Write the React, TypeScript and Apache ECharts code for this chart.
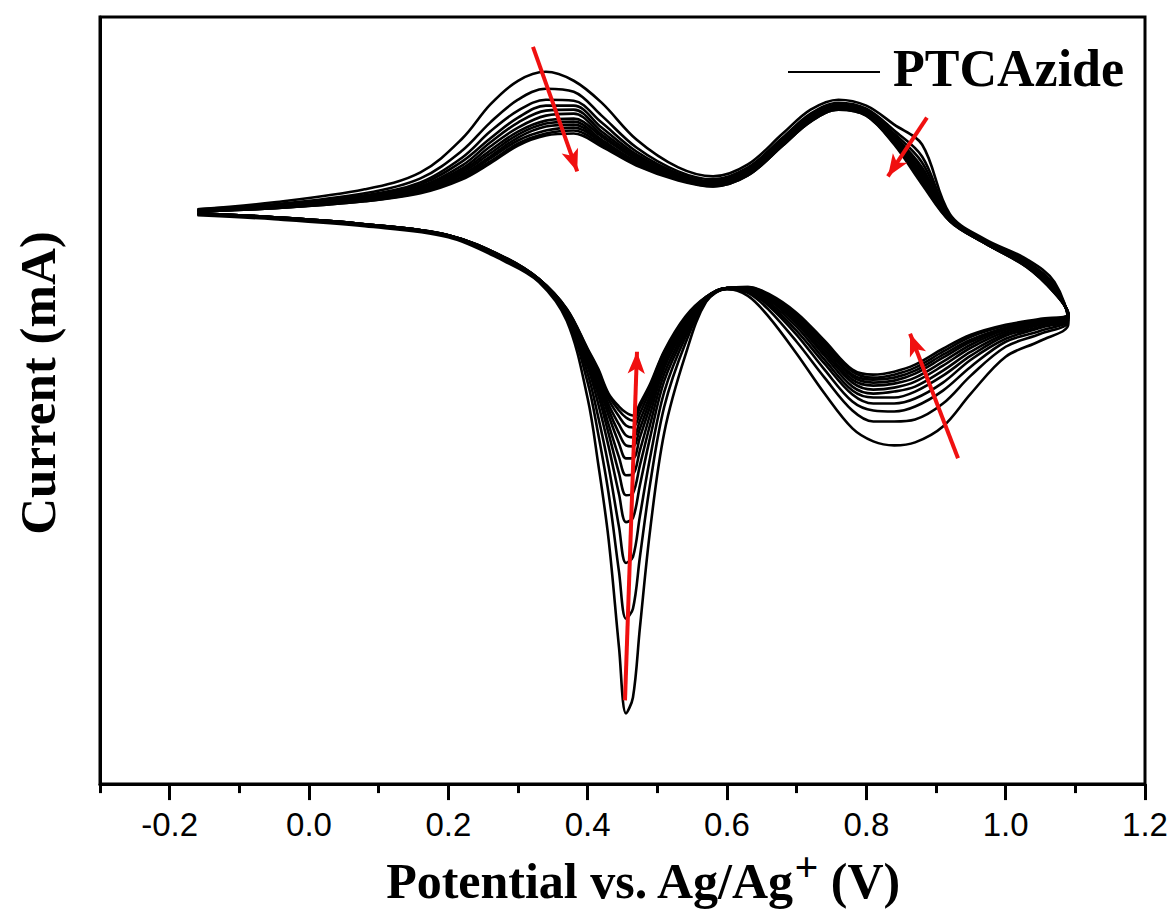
import React, { useEffect, useRef } from "react";
import * as echarts from "echarts";

// Potentials (V vs Ag/Ag+) for the anodic (forward) sweep, ending at the turning point 1.09 V
const potentialsAnodic = [-0.16, -0.05, 0.08, 0.16, 0.22, 0.26, 0.30, 0.34, 0.38, 0.42, 0.47, 0.53, 0.58, 0.63, 0.68, 0.72, 0.76, 0.80, 0.84, 0.88, 0.92, 0.97, 1.03, 1.07, 1.09];
// Current in µA at each anodic potential, cycles 1..12 (left to right)
const currentsAnodicUA = [
  [2, 2, 1, 1, 1, 1, 0, 0, 0, 0, 0, 0],
  [9, 7, 6, 6, 5, 5, 4, 4, 4, 3, 3, 3],
  [22, 18, 16, 15, 14, 13, 13, 12, 11, 11, 10, 10],
  [39, 33, 29, 27, 25, 24, 23, 22, 21, 20, 19, 18],
  [73, 61, 54, 50, 46, 43, 41, 39, 37, 35, 34, 32],
  [107, 89, 80, 73, 69, 65, 61, 58, 55, 53, 50, 48],
  [131, 112, 101, 94, 89, 84, 80, 77, 74, 71, 68, 66],
  [140, 123, 112, 106, 101, 96, 91, 88, 85, 81, 78, 76],
  [131, 120, 111, 106, 102, 98, 93, 90, 87, 84, 81, 78],
  [109, 96, 89, 84, 80, 77, 75, 72, 70, 69, 67, 65],
  [72, 64, 60, 57, 55, 53, 52, 50, 49, 48, 47, 46],
  [44, 40, 38, 37, 36, 35, 34, 33, 33, 32, 32, 31],
  [35, 32, 30, 29, 28, 28, 27, 27, 26, 26, 25, 25],
  [47, 44, 42, 41, 40, 39, 38, 38, 37, 37, 36, 36],
  [78, 74, 72, 71, 70, 69, 69, 68, 67, 67, 66, 66],
  [102, 98, 96, 95, 94, 93, 93, 92, 91, 91, 90, 90],
  [112, 109, 107, 106, 105, 105, 104, 104, 103, 103, 102, 102],
  [106, 103, 101, 100, 99, 99, 98, 98, 97, 97, 96, 96],
  [87, 81, 78, 76, 74, 73, 71, 70, 69, 69, 68, 67],
  [67, 55, 49, 44, 41, 38, 36, 34, 32, 31, 29, 27],
  [-3, -5, -6, -7, -7, -8, -8, -9, -9, -9, -10, -10],
  [-28, -29, -30, -30, -31, -31, -31, -31, -32, -32, -32, -32],
  [-48, -50, -52, -53, -53, -54, -54, -55, -55, -55, -56, -56],
  [-71, -74, -76, -77, -78, -79, -80, -80, -81, -81, -82, -82],
  [-113, -110, -108, -107, -106, -106, -105, -105, -104, -104, -103, -103],
];

// Potentials for the cathodic (reverse) sweep, from 1.09 V back to -0.16 V
const potentialsCathodic = [1.05, 1.00, 0.95, 0.91, 0.87, 0.84, 0.81, 0.78, 0.74, 0.70, 0.66, 0.63, 0.60, 0.57, 0.54, 0.51, 0.49, 0.475, 0.465, 0.455, 0.445, 0.43, 0.415, 0.40, 0.37, 0.33, 0.28, 0.20, 0.08, -0.05, -0.16];
// Current in µA at each cathodic potential, cycles 1..12
const currentsCathodicUA = [
  [-130, -123, -120, -117, -116, -114, -113, -112, -111, -110, -109, -108],
  [-146, -136, -131, -128, -125, -123, -121, -119, -118, -117, -115, -114],
  [-183, -165, -156, -149, -145, -141, -137, -134, -131, -129, -126, -124],
  [-216, -193, -180, -172, -165, -160, -155, -151, -147, -144, -141, -138],
  [-232, -209, -196, -188, -181, -176, -171, -167, -163, -160, -157, -154],
  [-235, -211, -201, -193, -187, -181, -177, -173, -170, -167, -164, -161],
  [-231, -211, -200, -193, -187, -183, -179, -175, -172, -169, -167, -164],
  [-218, -200, -191, -184, -180, -176, -172, -169, -166, -164, -161, -159],
  [-183, -167, -159, -153, -149, -145, -142, -139, -136, -134, -132, -130],
  [-143, -131, -124, -120, -116, -113, -111, -109, -107, -105, -104, -102],
  [-106, -99, -95, -93, -91, -89, -88, -87, -86, -85, -84, -83],
  [-85, -82, -81, -80, -79, -79, -78, -78, -77, -77, -76, -76],
  [-78, -78, -78, -78, -77, -77, -77, -77, -77, -77, -77, -77],
  [-91, -90, -89, -88, -88, -87, -87, -87, -87, -86, -86, -86],
  [-145, -133, -127, -123, -120, -117, -115, -113, -111, -109, -108, -106],
  [-222, -196, -181, -170, -163, -157, -153, -149, -146, -144, -141, -140],
  [-318, -272, -246, -226, -213, -203, -195, -189, -184, -179, -175, -173],
  [-418, -347, -306, -275, -255, -240, -227, -218, -210, -203, -197, -193],
  [-488, -399, -347, -308, -283, -264, -248, -236, -227, -217, -210, -205],
  [-504, -409, -353, -312, -285, -265, -248, -235, -225, -215, -207, -202],
  [-438, -362, -317, -284, -263, -247, -233, -223, -214, -206, -200, -196],
  [-329, -283, -256, -236, -223, -214, -205, -199, -194, -189, -185, -183],
  [-253, -223, -206, -193, -184, -178, -173, -168, -165, -162, -160, -158],
  [-188, -172, -163, -156, -152, -149, -146, -144, -142, -140, -139, -138],
  [-110, -106, -104, -103, -102, -102, -101, -100, -99, -99, -98, -98],
  [-71, -70, -70, -69, -69, -69, -69, -68, -68, -68, -68, -68],
  [-50, -49, -48, -48, -48, -47, -47, -47, -47, -46, -46, -46],
  [-26, -25, -25, -25, -25, -25, -24, -24, -24, -24, -24, -24],
  [-15, -14, -14, -14, -14, -14, -13, -13, -13, -13, -13, -13],
  [-8, -7, -7, -7, -7, -7, -6, -6, -6, -6, -6, -6],
  [-4, -3, -3, -3, -3, -3, -2, -2, -2, -2, -2, -2],
];

const cycleCount = 12;
const majorTicks = [-0.2, 0.0, 0.2, 0.4, 0.6, 0.8, 1.0, 1.2];
const minorTicks = [-0.3, -0.1, 0.1, 0.3, 0.5, 0.7, 0.9, 1.1];

// Red trend arrows: [start potential, start current (mA), end potential, end current (mA)]
const trendArrows = [
  [0.3215, 0.165, 0.385, 0.040],
  [0.887, 0.094, 0.831, 0.035],
  [0.4536, -0.491, 0.4708, -0.141],
  [0.9316, -0.248, 0.8628, -0.123],
];

const legendLabel = "PTCAzide";
const xTitle = "Potential vs. Ag/Ag";
const yTitle = "Current (mA)";

const serif = '"Liberation Serif", "Times New Roman", serif';
const narrow = '"Liberation Sans Narrow", "Arial Narrow", "Liberation Sans", sans-serif';

export default function App() {
  const ref = useRef<HTMLDivElement>(null);

  useEffect(() => {
    if (!ref.current) return;
    const chart = echarts.init(ref.current, null, { renderer: "svg" });

    const series: any[] = [];
    for (let c = 0; c < cycleCount; c++) {
      const data: number[][] = [];
      potentialsAnodic.forEach((v, j) => data.push([v, currentsAnodicUA[j][c] / 1000]));
      potentialsCathodic.forEach((v, j) => data.push([v, currentsCathodicUA[j][c] / 1000]));
      series.push({
        type: "line",
        name: c === 0 ? legendLabel : "cycle " + (c + 1),
        data,
        showSymbol: false,
        smooth: 0.35,
        lineStyle: { color: "#000", width: 2.6 },
        z: 2,
      });
    }
    series.push({
      type: "line",
      name: "arrows",
      data: [],
      markLine: {
        silent: true,
        symbol: ["none", "arrow"],
        symbolSize: [13, 22],
        label: { show: false },
        lineStyle: { color: "#f01010", width: 4, type: "solid" },
        data: trendArrows.map((a) => [
          { coord: [a[0], a[1]] },
          { coord: [a[2], a[3]] },
        ]),
      },
      z: 5,
    });

    chart.setOption({
      animation: false,
      backgroundColor: "#fff",
      grid: {
        left: 100,
        right: 29,
        top: 17,
        bottom: 124,
        show: true,
        borderColor: "#000",
        borderWidth: 3,
        backgroundColor: "transparent",
      },
      xAxis: [
        {
          type: "value",
          min: -0.3,
          max: 1.2,
          interval: 0.1,
          position: "bottom",
          axisLine: { show: true, onZero: false, lineStyle: { color: "#000", width: 3 } },
          axisTick: {
            show: true,
            inside: false,
            length: 16,
            customValues: majorTicks,
            lineStyle: { color: "#000", width: 3 },
          },
          axisLabel: {
            show: true,
            customValues: majorTicks,
            formatter: (v: number) => v.toFixed(1),
            fontFamily: narrow,
            fontSize: 33,
            color: "#000",
            margin: 24,
          },
          splitLine: { show: false },
          name: "{a|" + xTitle + "}{s|+}{a| (V)}",
          nameLocation: "middle",
          nameGap: 51,
          nameTextStyle: {
            padding: [0, 0, 0, 40],
            rich: {
              a: { fontFamily: serif, fontWeight: "bold", fontSize: 50, color: "#000", lineHeight: 70 },
              s: { fontFamily: serif, fontWeight: "bold", fontSize: 42, color: "#000", lineHeight: 10, verticalAlign: "top" },
            },
          },
        },
        {
          type: "value",
          min: -0.3,
          max: 1.2,
          interval: 0.1,
          position: "bottom",
          axisLine: { show: false, onZero: false },
          axisTick: {
            show: true,
            inside: false,
            length: 9,
            customValues: minorTicks,
            lineStyle: { color: "#000", width: 3 },
          },
          axisLabel: { show: false },
          splitLine: { show: false },
        },
      ],
      yAxis: {
        type: "value",
        min: -0.575,
        max: 0.195,
        axisLine: { show: true, onZero: false, lineStyle: { color: "#000", width: 3 } },
        axisTick: { show: false },
        axisLabel: { show: false },
        splitLine: { show: false },
      },
      graphic: [
        {
          type: "line",
          shape: { x1: 788, y1: 72, x2: 880, y2: 72 },
          style: { stroke: "#000", lineWidth: 2 },
          z: 10,
        },
        {
          type: "text",
          x: 893,
          y: 68,
          style: {
            text: legendLabel,
            font: "bold 52px " + serif,
            fill: "#000",
            textAlign: "left",
            textVerticalAlign: "middle",
          },
          z: 10,
        },
        {
          type: "text",
          x: 38,
          y: 383,
          rotation: Math.PI / 2,
          style: {
            text: yTitle,
            font: "bold 51px " + serif,
            fill: "#000",
            textAlign: "center",
            textVerticalAlign: "middle",
          },
          z: 10,
        },
      ],
      series,
    });

    return () => chart.dispose();
  }, []);

  return (
    <div
      ref={ref}
      style={{ position: "absolute", left: 0, top: 0, width: 1174, height: 911, background: "#fff" }}
    />
  );
}
